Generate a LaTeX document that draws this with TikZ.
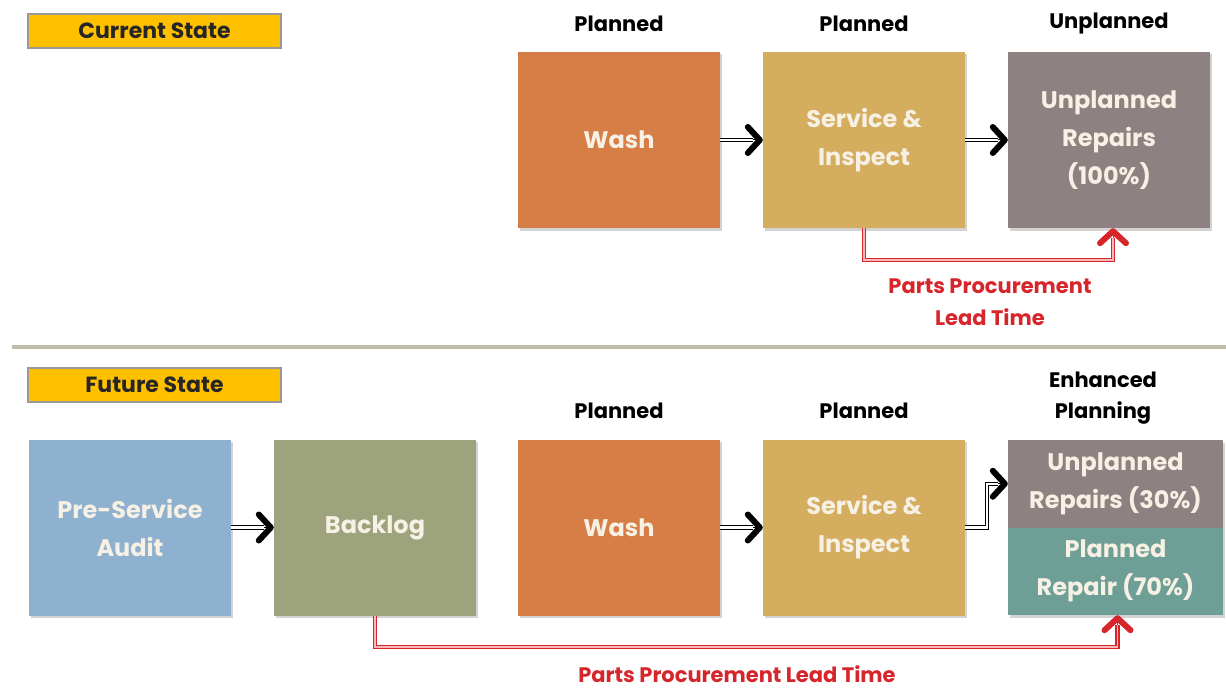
\documentclass[tikz,border=0pt]{standalone}
\usepackage{fontspec}
\setmainfont{Poppins}
\usetikzlibrary{arrows.meta,shadows,calc}
\definecolor{gold}{HTML}{FFC000}
\definecolor{washc}{HTML}{D67E46}
\definecolor{servc}{HTML}{D4AD5F}
\definecolor{unplc}{HTML}{8E8182}
\definecolor{auditc}{HTML}{8FB1D0}
\definecolor{backc}{HTML}{9DA37C}
\definecolor{planc}{HTML}{6E9F97}
\definecolor{leadred}{HTML}{D7262B}
\definecolor{leadcore}{HTML}{F6B8B8}
\definecolor{boxtext}{HTML}{F7F0E4}
\definecolor{sepc}{HTML}{BDBDAA}
\tikzset{
  x=1pt, y=-1pt,
  boxfont/.style={text=boxtext, font=\fontsize{24}{38}\selectfont\bfseries, align=center},
  stage/.style={boxfont, minimum width=202pt, minimum height=176pt, inner sep=0pt,
    drop shadow={shadow xshift=2pt, shadow yshift=-2.5pt, opacity=0.35}},
  halfstage/.style={boxfont, minimum width=215pt, minimum height=87.5pt, inner sep=0pt,
    drop shadow={shadow xshift=2pt, shadow yshift=-2.5pt, opacity=0.35}},
  statetag/.style={fill=gold, draw=gray!80, line width=1.2pt,
    minimum width=253pt, minimum height=34pt, inner sep=0pt,
    font=\fontsize{22}{24}\selectfont\bfseries, text=black!85},
  phase/.style={font=\fontsize{21}{31}\selectfont\bfseries, text=black, align=center},
  leadlabel/.style={font=\fontsize{21}{32}\selectfont\bfseries, text=leadred, align=center},
  barb/.tip={Straight Barb[round, length=12pt, width=26pt, line width=6pt]},
  % single line carrying a heavy barb, overlaid by a hollow double shaft
  flow/.style={draw=black, line width=1pt, -barb,
    postaction={draw=black, double=white, double distance=2.2pt, line width=1.1pt,
      arrows=-, shorten >=10pt}},
  lead/.style={draw=leadred, line width=1pt, -barb,
    postaction={draw=leadred, double=leadcore, double distance=1.8pt, line width=1.3pt,
      arrows=-, shorten >=10pt}},
  sep/.style={draw=sepc, line width=4.5pt}
}
\begin{document}
\begin{tikzpicture}
\useasboundingbox (0,0) rectangle (1226,690);

% ---- current state ----
\node[statetag] (cur) at (154.5,31) {Current State};

\node[stage, fill=washc] (wash1) at (619,140) {Wash};
\node[stage, fill=servc] (serv1) at (864,140) {Service \&\\Inspect};
\node[stage, fill=unplc] (unpl1) at (1109,140) {Unplanned\\Repairs\\(100\%)};

\node[phase] (p1) at (619,24) {Planned};
\node[phase] (p2) at (864,24) {Planned};
\node[phase] (p3) at (1109,24) {Unplanned};

\draw[flow] (wash1) -- (serv1);
\draw[flow] (serv1) -- (unpl1);
\draw[lead] (serv1.south) -- ++(0,32) -| ([xshift=4pt]unpl1.south);

\node[leadlabel] (lt1) at (990,302) {Parts Procurement\\Lead Time};

% ---- divider ----
\coordinate (sepL) at (12,347);
\coordinate (sepR) at (1226,347);
\draw[sep] (sepL) -- (sepR);

% ---- future state ----
\node[statetag] (fut) at (154.5,385) {Future State};

\node[stage, fill=auditc] (audit) at (130,527.5) {Pre-Service\\Audit};
\node[stage, fill=backc] (back) at (375,527.5) {Backlog};
\node[stage, fill=washc] (wash2) at (619,527.5) {Wash};
\node[stage, fill=servc] (serv2) at (864,527.5) {Service \&\\Inspect};
\node[halfstage, fill=unplc] (unpl2) at (1115.5,483.75) {Unplanned\\Repairs (30\%)};
\node[halfstage, fill=planc] (plan2) at (1115.5,571.25) {Planned\\Repair (70\%)};

\node[phase] (p4) at (619,411) {Planned};
\node[phase] (p5) at (864,411) {Planned};
\node[phase] (p6) at (1103,398) {Enhanced\\Planning};

\draw[flow] (audit) -- (back);
\draw[flow] (wash2) -- (serv2);
\draw[flow] (serv2.east) -- ++(22,0) |- (unpl2.west);
\draw[lead] (back.south) -- ++(0,31) -| ([xshift=2pt]plan2.south);

\node[leadlabel] (lt2) at (737,674) {Parts Procurement Lead Time};
\end{tikzpicture}
\end{document}
